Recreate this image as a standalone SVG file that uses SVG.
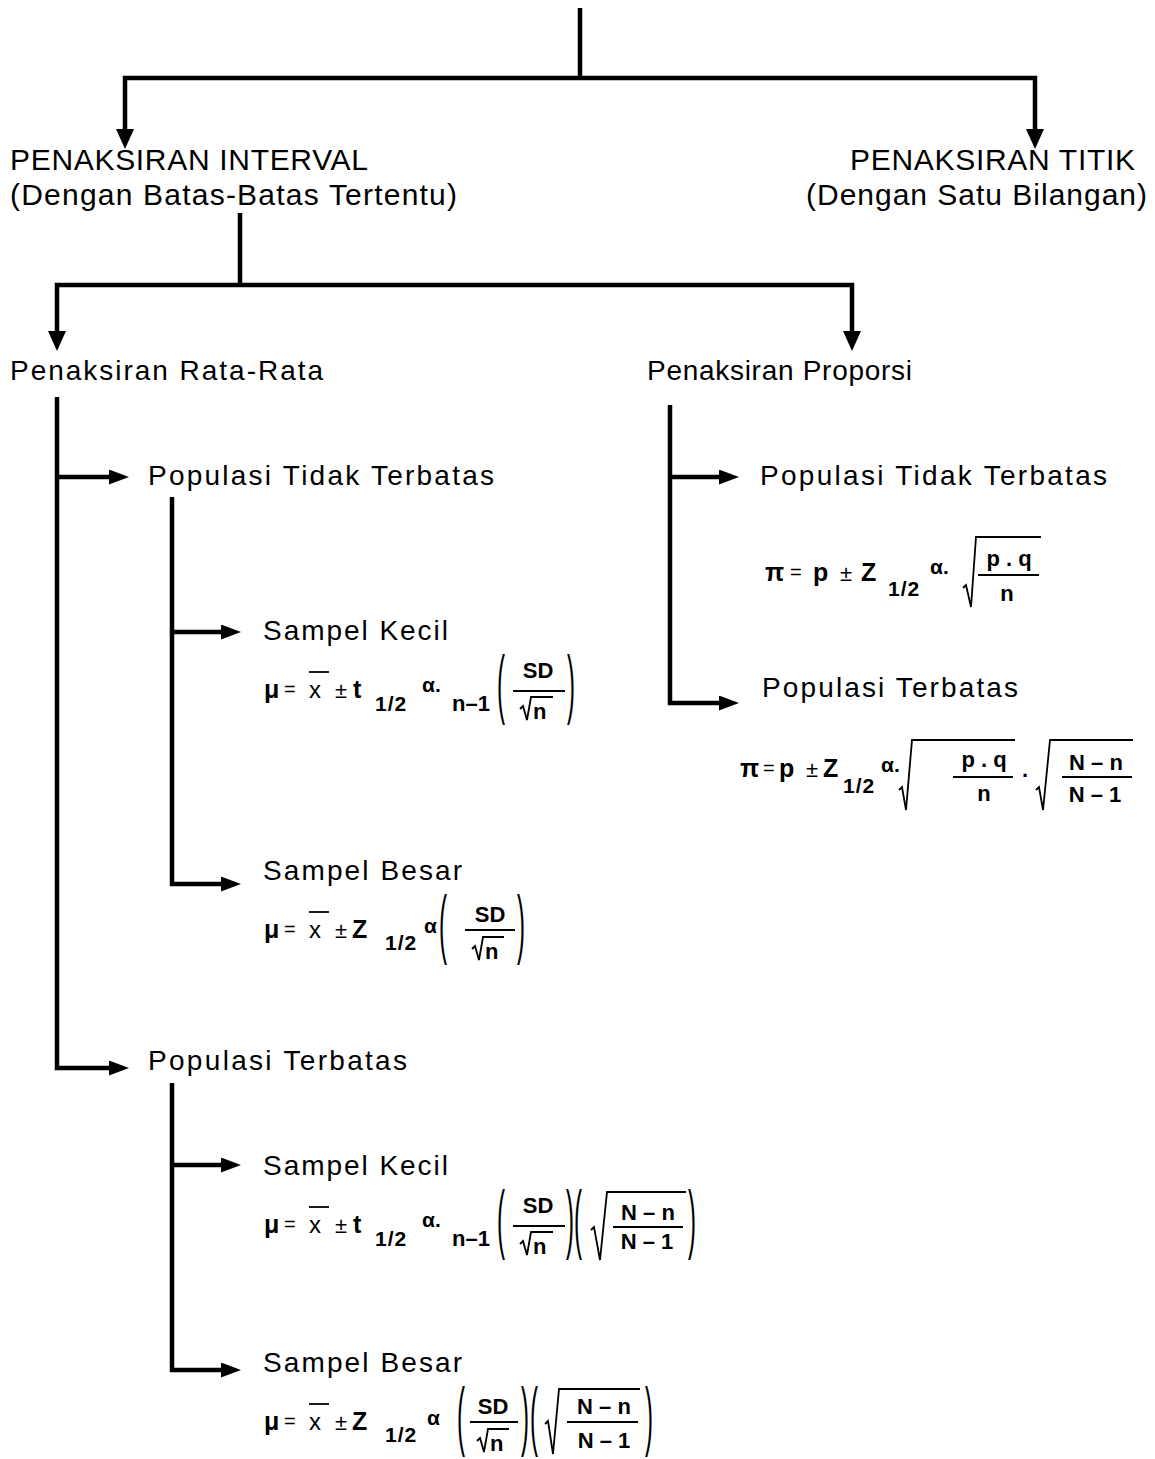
<svg xmlns="http://www.w3.org/2000/svg" width="1155" height="1459" viewBox="0 0 1155 1459">
  <style>
    text { font-family: "Liberation Sans", Arial, "DejaVu Sans", sans-serif; fill: #000; }
    .lbl-top { font-size: 30px; }
    .lbl { font-size: 28px; }
    .m { font-size: 22px; font-weight: bold; }
    .big { font-size: 25px; font-weight: bold; }
    .sub { font-size: 21px; font-weight: bold; letter-spacing: 1px; }
    .al { font-size: 21px; font-weight: bold; }
    .op { font-size: 20px; }
    .pm { font-size: 22px; }
    .xv { font-size: 24px; }
    .par { font-size: 24px; }
    .rule { stroke: #000; stroke-width: 1.8; fill: none; }
    .conn { stroke: #000; stroke-width: 4.5; fill: none; stroke-linejoin: miter; stroke-linecap: butt; }
  </style>
  <defs>
    <marker id="ahDown" markerUnits="userSpaceOnUse" markerWidth="20" markerHeight="18" viewBox="0 0 20 18" refX="1" refY="9" orient="auto">
      <path d="M0,0 L20,9 L0,18 z" fill="#000"/>
    </marker>
    <marker id="ahSide" markerUnits="userSpaceOnUse" markerWidth="20" markerHeight="15" viewBox="0 0 20 15" refX="1" refY="7.5" orient="auto">
      <path d="M0,0 L20,7.5 L0,15 z" fill="#000"/>
    </marker>
  </defs>
  <rect width="1155" height="1459" fill="#fff"/>

  <!-- connectors -->
  <g id="connectors">
    <path class="conn" d="M580,8 V78"/>
    <path class="conn" d="M580,78 H125 V130" marker-end="url(#ahDown)"/>
    <path class="conn" d="M580,78 H1035 V130" marker-end="url(#ahDown)"/>
    <path class="conn" d="M240,213 V285"/>
    <path class="conn" d="M240,285 H57 V332" marker-end="url(#ahDown)"/>
    <path class="conn" d="M240,285 H852 V332" marker-end="url(#ahDown)"/>
    <path class="conn" d="M57,397 V1068 H110" marker-end="url(#ahSide)"/>
    <path class="conn" d="M57,477 H110" marker-end="url(#ahSide)"/>
    <path class="conn" d="M172,497 V884 H222" marker-end="url(#ahSide)"/>
    <path class="conn" d="M172,632 H222" marker-end="url(#ahSide)"/>
    <path class="conn" d="M172,1083 V1370 H222" marker-end="url(#ahSide)"/>
    <path class="conn" d="M172,1165 H222" marker-end="url(#ahSide)"/>
    <path class="conn" d="M670,405 V703 H720" marker-end="url(#ahSide)"/>
    <path class="conn" d="M670,477 H720" marker-end="url(#ahSide)"/>
  </g>

  <g id="interval">
    <text class="lbl-top" x="10" y="170" textLength="358" lengthAdjust="spacing">PENAKSIRAN INTERVAL</text>
    <text class="lbl-top" x="10" y="205" textLength="447" lengthAdjust="spacing">(Dengan Batas-Batas Tertentu)</text>
  </g>
  <g id="titik">
    <text class="lbl-top" x="850" y="170" textLength="285" lengthAdjust="spacing">PENAKSIRAN TITIK</text>
    <text class="lbl-top" x="806" y="205" textLength="341" lengthAdjust="spacing">(Dengan Satu Bilangan)</text>
  </g>
  <g id="rata-rata">
    <text class="lbl" x="10" y="380" textLength="313" lengthAdjust="spacing">Penaksiran Rata-Rata</text>
  </g>
  <g id="proporsi">
    <text class="lbl" x="647" y="380" textLength="265" lengthAdjust="spacing">Penaksiran Proporsi</text>
  </g>

  <!-- mean, infinite population -->
  <g id="rata-tak-terbatas">
    <text class="lbl" x="148" y="485" textLength="346" lengthAdjust="spacing">Populasi Tidak Terbatas</text>
  </g>
  <g id="rata-tak-terbatas-kecil">
    <text class="lbl" x="263" y="640" textLength="185" lengthAdjust="spacing">Sampel Kecil</text>
    <g id="formula-t">
      <text class="big" x="264" y="698">μ</text>
      <text class="op" x="284" y="696">=</text>
      <text class="xv" x="309" y="698">x</text>
      <line class="rule" x1="309" y1="672" x2="329" y2="672"/>
      <text class="pm" x="335" y="698">±</text>
      <text class="big" x="353" y="698">t</text>
      <text class="sub" x="375" y="711">1/2</text>
      <text class="al" x="422" y="692">α.</text>
      <text class="m" x="452" y="711">n–1</text>
      <text class="par" transform="translate(497,709) scale(1,3.2)">(</text>
      <text class="m" x="538" y="678" text-anchor="middle">SD</text>
      <line class="rule" x1="513" y1="691" x2="565" y2="691"/>
      <polyline class="rule" points="520,709 523,706 527,720 531,697 553,697"/>
      <text class="m" x="533" y="719">n</text>
      <text class="par" transform="translate(567,709) scale(1,3.2)">)</text>
    </g>
  </g>
  <g id="rata-tak-terbatas-besar">
    <text class="lbl" x="263" y="880" textLength="199" lengthAdjust="spacing">Sampel Besar</text>
    <text class="big" x="264" y="938">μ</text>
    <text class="op" x="284" y="936">=</text>
    <text class="xv" x="309" y="938">x</text>
    <line class="rule" x1="309" y1="912" x2="329" y2="912"/>
    <text class="pm" x="335" y="938">±</text>
    <text class="big" x="352" y="938">Z</text>
    <text class="sub" x="385" y="950">1/2</text>
    <text class="al" x="424" y="933">α</text>
    <text class="par" transform="translate(439,949) scale(1,3.2)">(</text>
    <text class="m" x="490" y="922" text-anchor="middle">SD</text>
    <line class="rule" x1="465" y1="930" x2="515" y2="930"/>
    <polyline class="rule" points="472,949 475,946 479,960 483,937 504,937"/>
    <text class="m" x="485" y="959">n</text>
    <text class="par" transform="translate(517,949) scale(1,3.2)">)</text>
  </g>

  <!-- mean, finite population -->
  <g id="rata-terbatas">
    <text class="lbl" x="148" y="1070" textLength="259" lengthAdjust="spacing">Populasi Terbatas</text>
  </g>
  <g id="rata-terbatas-kecil">
    <text class="lbl" x="263" y="1175" textLength="185" lengthAdjust="spacing">Sampel Kecil</text>
    <g transform="translate(0,535)">
      <text class="big" x="264" y="698">μ</text>
      <text class="op" x="284" y="696">=</text>
      <text class="xv" x="309" y="698">x</text>
      <line class="rule" x1="309" y1="672" x2="329" y2="672"/>
      <text class="pm" x="335" y="698">±</text>
      <text class="big" x="353" y="698">t</text>
      <text class="sub" x="375" y="711">1/2</text>
      <text class="al" x="422" y="692">α.</text>
      <text class="m" x="452" y="711">n–1</text>
      <text class="par" transform="translate(497,709) scale(1,3.2)">(</text>
      <text class="m" x="538" y="678" text-anchor="middle">SD</text>
      <line class="rule" x1="513" y1="691" x2="565" y2="691"/>
      <polyline class="rule" points="520,709 523,706 527,720 531,697 553,697"/>
      <text class="m" x="533" y="719">n</text>
      <text class="par" transform="translate(566,709) scale(1,3.2)">)</text>
      <text class="par" transform="translate(574,709) scale(1,3.2)">(</text>
      <polyline class="rule" points="591,695 594,692 600,725 607,657 686,657"/>
      <text class="m" x="648" y="685" text-anchor="middle">N – n</text>
      <line class="rule" x1="613" y1="692" x2="683" y2="692"/>
      <text class="m" x="647" y="714" text-anchor="middle">N – 1</text>
      <text class="par" transform="translate(688,709) scale(1,3.2)">)</text>
    </g>
  </g>
  <g id="rata-terbatas-besar">
    <text class="lbl" x="263" y="1372" textLength="199" lengthAdjust="spacing">Sampel Besar</text>
    <text class="big" x="264" y="1430">μ</text>
    <text class="op" x="284" y="1428">=</text>
    <text class="xv" x="309" y="1430">x</text>
    <line class="rule" x1="309" y1="1404" x2="329" y2="1404"/>
    <text class="pm" x="335" y="1430">±</text>
    <text class="big" x="352" y="1430">Z</text>
    <text class="sub" x="385" y="1442">1/2</text>
    <text class="al" x="427" y="1425">α</text>
    <text class="par" transform="translate(457,1441) scale(1,3.2)">(</text>
    <text class="m" x="493" y="1414" text-anchor="middle">SD</text>
    <line class="rule" x1="470" y1="1422" x2="518" y2="1422"/>
    <polyline class="rule" points="477,1441 480,1438 484,1452 488,1429 509,1429"/>
    <text class="m" x="490" y="1451">n</text>
    <text class="par" transform="translate(521,1441) scale(1,3.2)">)</text>
    <text class="par" transform="translate(530,1441) scale(1,3.2)">(</text>
    <polyline class="rule" points="545,1424 548,1421 553,1454 559,1389 640,1389"/>
    <text class="m" x="604" y="1414" text-anchor="middle">N – n</text>
    <line class="rule" x1="567" y1="1422" x2="638" y2="1422"/>
    <text class="m" x="604" y="1448" text-anchor="middle">N – 1</text>
    <text class="par" transform="translate(645,1441) scale(1,3.2)">)</text>
  </g>

  <!-- proportion -->
  <g id="proporsi-tak-terbatas">
    <text class="lbl" x="760" y="485" textLength="347" lengthAdjust="spacing">Populasi Tidak Terbatas</text>
    <text class="big" x="765" y="581">π</text>
    <text class="op" x="790" y="579">=</text>
    <text class="big" x="813" y="581">p</text>
    <text class="pm" x="840" y="581">±</text>
    <text class="big" x="861" y="581">Z</text>
    <text class="sub" x="888" y="596">1/2</text>
    <text class="al" x="930" y="574">α.</text>
    <polyline class="rule" points="963,588 966,585 971,607 976,537 1041,537"/>
    <text class="m" x="1009" y="566" text-anchor="middle">p . q</text>
    <line class="rule" x1="978" y1="575" x2="1039" y2="575"/>
    <text class="m" x="1007" y="601" text-anchor="middle">n</text>
  </g>
  <g id="proporsi-terbatas">
    <text class="lbl" x="762" y="697" textLength="256" lengthAdjust="spacing">Populasi Terbatas</text>
    <text class="big" x="740" y="777">π</text>
    <text class="op" x="763" y="775">=</text>
    <text class="big" x="779" y="777">p</text>
    <text class="pm" x="806" y="777">±</text>
    <text class="big" x="823" y="777">Z</text>
    <text class="sub" x="843" y="793">1/2</text>
    <text class="al" x="881" y="772">α.</text>
    <polyline class="rule" points="899,790 902,787 906,810 912,740 1015,740"/>
    <text class="m" x="984" y="767" text-anchor="middle">p . q</text>
    <line class="rule" x1="953" y1="777" x2="1013" y2="777"/>
    <text class="m" x="984" y="801" text-anchor="middle">n</text>
    <text class="m" x="1022" y="777">.</text>
    <polyline class="rule" points="1036,790 1039,787 1043,810 1050,740 1133,740"/>
    <text class="m" x="1096" y="770" text-anchor="middle">N – n</text>
    <line class="rule" x1="1062" y1="777" x2="1132" y2="777"/>
    <text class="m" x="1095" y="802" text-anchor="middle">N – 1</text>
  </g>
</svg>
